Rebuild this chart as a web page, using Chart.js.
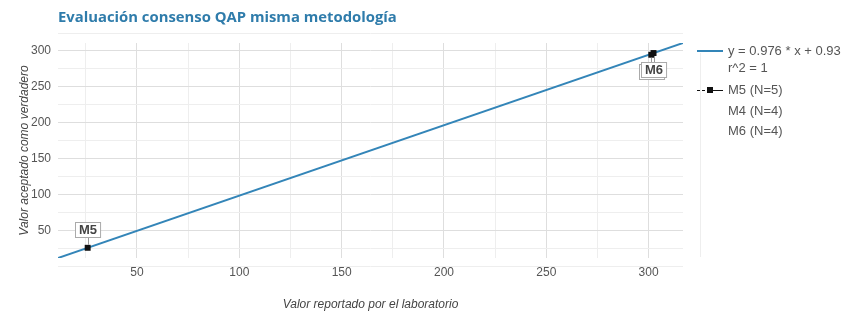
<!DOCTYPE html>
<html><head><meta charset="utf-8">
<script src="https://cdn.jsdelivr.net/npm/chart.js@4/dist/chart.umd.min.js"></script>
<style>html,body{margin:0;padding:0;background:#fff;}#wrap{position:relative;width:857px;height:312px;}</style>
</head><body><div id="wrap"><canvas id="c" width="857" height="312"></canvas></div>
<script>
// ---- data ----
const chartTitle = 'Evaluación consenso QAP misma metodología';
const xAxisTitle = 'Valor reportado por el laboratorio';
const yAxisTitle = 'Valor aceptado como verdadero';
const xMajorTicks = [50, 100, 150, 200, 250, 300];
const xMinorTicks = [25, 75, 125, 175, 225, 275];
const yMajorTicks = [50, 100, 150, 200, 250, 300];
const yMinorTicks = [25, 75, 125, 175, 225, 275];
const xRange = [11.4, 316.8];
const yRange = [12.06, 310.1];
const trendX = [11.4, 316.8];
const trendY = [12.06, 310.1];
const trendLabel = 'y = 0.976 * x + 0.93';
const trendR2 = 'r^2 = 1';
const seriesNames = ['M5', 'M4', 'M6'];
const seriesLegend = ['M5 (N=5)', 'M4 (N=4)', 'M6 (N=4)'];
const seriesX = [25.9, 301.3, 302.4];
const seriesY = [26.2, 293.8, 296.2];

// ---- style ----
const FONT = '"Liberation Sans", Arial, sans-serif';
const MAJOR = 'rgb(222,222,222)';
const MINOR = 'rgb(238,238,238)';
const TREND = '#3385b8';
const labelDY = [-18, 16.5, 16.5];

const allX = [...xMinorTicks, ...xMajorTicks].sort((a, b) => a - b);
const allY = [...yMinorTicks, ...yMajorTicks].sort((a, b) => a - b);

const datasets = [{
  label: trendLabel,
  data: trendX.map((x, i) => ({x, y: trendY[i]})),
  showLine: true, borderColor: TREND, borderWidth: 2, pointRadius: 0, order: 2
}];
seriesNames.forEach((n, i) => {
  datasets.push({
    label: seriesLegend[i],
    data: [{x: seriesX[i], y: seriesY[i]}],
    pointStyle: 'rect', pointRadius: 4.2, backgroundColor: '#111', borderColor: '#111',
    borderWidth: 0, order: 1
  });
});

const deco = {
  id: 'deco',
  beforeDraw(chart) {
    const {ctx, chartArea: a} = chart;
    ctx.save();
    ctx.strokeStyle = MINOR; ctx.lineWidth = 1;
    ctx.beginPath();
    ctx.moveTo(a.left, 33.5); ctx.lineTo(a.right, 33.5);
    ctx.moveTo(a.left, 266.5); ctx.lineTo(a.right, 266.5);
    ctx.moveTo(700.5, 53); ctx.lineTo(700.5, 257);
    ctx.stroke();
    ctx.restore();
  },
  afterDatasetsDraw(chart) {
    const {ctx, scales: {x, y}} = chart;
    ctx.save();
    ctx.font = 'bold 13px ' + FONT;
    seriesNames.forEach((n, i) => {
      const px = x.getPixelForValue(seriesX[i]);
      const py = y.getPixelForValue(seriesY[i]);
      const w = ctx.measureText(n).width + 7, h = 15;
      const cx = px, cy = py + labelDY[i];
      ctx.strokeStyle = '#999'; ctx.lineWidth = 1;
      ctx.beginPath();
      if (labelDY[i] < 0) { ctx.moveTo(Math.round(px) + 0.5, cy + h / 2); ctx.lineTo(Math.round(px) + 0.5, py - 3); }
      else { ctx.moveTo(Math.round(px) + 0.5, py + 3); ctx.lineTo(Math.round(px) + 0.5, cy - h / 2); }
      ctx.stroke();
      const bx = Math.round(cx - w / 2) + 0.5, by = Math.round(cy - h / 2) + 0.5;
      ctx.fillStyle = '#fff';
      ctx.fillRect(bx, by, w, h);
      ctx.strokeStyle = '#aaa';
      ctx.strokeRect(bx, by, w, h);
      ctx.fillStyle = '#444';
      ctx.textAlign = 'center'; ctx.textBaseline = 'middle';
      ctx.fillText(n, bx + w / 2, by + h / 2 + 0.5);
    });
    ctx.restore();
  },
  afterDraw(chart) {
    const {ctx} = chart;
    ctx.save();
    ctx.font = 'bold 14px "Open Sans", sans-serif';
    const tw = ctx.measureText(chartTitle).width;
    const fs = 14 * 339 / tw;
    ctx.font = 'bold ' + fs.toFixed(2) + 'px "Open Sans", sans-serif';
    ctx.fillStyle = '#2f7cab';
    ctx.textAlign = 'left'; ctx.textBaseline = 'alphabetic';
    ctx.fillText(chartTitle, 58, 21.5);
    const lx = 697, tx = 728;
    ctx.font = '13px ' + FONT;
    ctx.textBaseline = 'middle';
    ctx.fillStyle = '#555';
    ctx.strokeStyle = TREND; ctx.lineWidth = 2;
    ctx.beginPath(); ctx.moveTo(lx, 51); ctx.lineTo(lx + 26, 51); ctx.stroke();
    ctx.fillText(trendLabel, tx, 51);
    ctx.fillText(trendR2, tx, 68);
    const rows = [90, 111, 131];
    seriesLegend.forEach((t, i) => {
      if (i === 0) {
        ctx.strokeStyle = '#111'; ctx.lineWidth = 1;
        ctx.setLineDash([3, 2]);
        ctx.beginPath(); ctx.moveTo(lx, rows[i] + 0.5); ctx.lineTo(lx + 10, rows[i] + 0.5); ctx.stroke();
        ctx.setLineDash([]);
        ctx.beginPath(); ctx.moveTo(lx + 10, rows[i] + 0.5); ctx.lineTo(lx + 26, rows[i] + 0.5); ctx.stroke();
        ctx.fillStyle = '#111';
        ctx.fillRect(lx + 10, rows[i] - 3, 6, 6);
        ctx.fillStyle = '#555';
      }
      ctx.fillText(t, tx, rows[i]);
    });
    ctx.restore();
  }
};

const gridColor = (majors) => (c) => (c.tick && majors.includes(c.tick.value)) ? MAJOR : MINOR;

new Chart(document.getElementById('c'), {
  type: 'scatter',
  data: {datasets},
  options: {
    responsive: false, animation: false, devicePixelRatio: 1,
    layout: {padding: {left: 0, top: 43, right: 174, bottom: 0}},
    plugins: {legend: {display: false}, tooltip: {enabled: false}, title: {display: false}},
    scales: {
      x: {
        type: 'linear', min: xRange[0], max: xRange[1],
        afterBuildTicks: s => { s.ticks = allX.map(v => ({value: v})); },
        afterFit: s => { s.height = 54; },
        grid: {color: gridColor(xMajorTicks), drawTicks: false, lineWidth: 1},
        border: {display: false},
        ticks: {callback: v => xMajorTicks.includes(v) ? String(v) : '', padding: 7, color: '#555',
          font: {family: FONT, size: 12}, autoSkip: false, maxRotation: 0},
        title: {display: true, text: xAxisTitle, color: '#444', font: {family: FONT, size: 12, style: 'italic'}, padding: {top: 2, bottom: 0}}
      },
      y: {
        type: 'linear', min: yRange[0], max: yRange[1],
        afterBuildTicks: s => { s.ticks = allY.map(v => ({value: v})); },
        afterFit: s => { s.width = 58; },
        grid: {color: gridColor(yMajorTicks), drawTicks: false, lineWidth: 1},
        border: {display: false},
        ticks: {callback: v => yMajorTicks.includes(v) ? String(v) : '', padding: 7, color: '#555',
          font: {family: FONT, size: 12}, autoSkip: false},
        title: {display: true, text: yAxisTitle, color: '#444', font: {family: FONT, size: 12, style: 'italic'}, padding: {top: 17, bottom: 0}}
      }
    }
  },
  plugins: [deco]
});
</script></body></html>
